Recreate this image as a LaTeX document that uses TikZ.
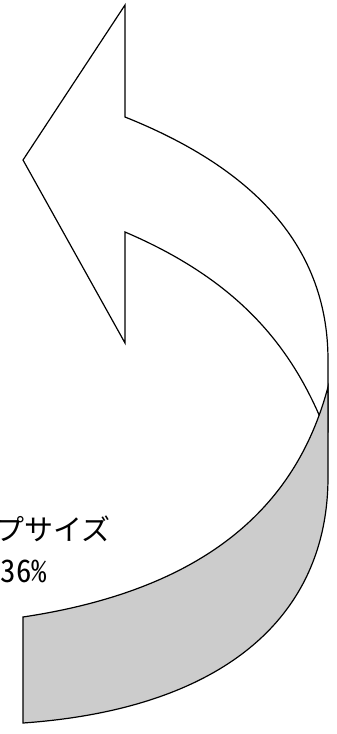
\documentclass[tikz,border=0pt]{standalone}
\usepackage{fontspec}
\setmainfont{Liberation Sans}
\newfontfamily\cjk{Noto Sans CJK JP}
\newfontfamily\cjkhw[RawFeature=+hwid]{Noto Sans CJK JP}
\definecolor{bandgray}{RGB}{204,204,204}
\tikzset{
  outline/.style={draw=black, line width=1.2pt, line join=miter},
  lbl/.style={anchor=base east, inner sep=0pt, text=black}
}
\begin{document}
\begin{tikzpicture}[x=1pt,y=-1pt]
\useasboundingbox (0,0) rectangle (337,734);
\clip (0,0) rectangle (337,734);
% white front face of the arrow
\path[outline, fill=white] (125,5) -- (23,160) -- (125,343) -- (125,232)
  .. controls (235,279) and (287.5,342) .. (320,417) -- (324,432) -- (328,432)
  -- (328,360) .. controls (328,240) and (245,165) .. (125,117) -- cycle;
% grey back face of the band
\path[outline, fill=bandgray] (328,387) .. controls (300,492) and (223,587) .. (23,617)
  -- (23,723) .. controls (223,709) and (328,617) .. (328,477) -- cycle;
% labels
\node[lbl, font=\cjk\fontsize{29}{34}\selectfont] (lbl1) at (111,540) {プサイズ};
\node[lbl, font=\cjkhw\fontsize{31}{36}\selectfont] (lbl2) at (47.5,582) {36\%};
\end{tikzpicture}
\end{document}
